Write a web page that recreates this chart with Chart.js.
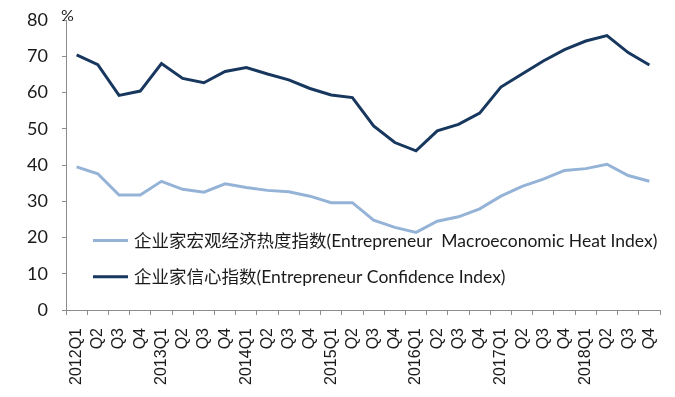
<!DOCTYPE html>
<html>
<head>
<meta charset="utf-8">
<script src="https://cdn.jsdelivr.net/npm/chart.js@4/dist/chart.umd.min.js"></script>
<style>
  html, body { margin: 0; padding: 0; background: #fff; }
  #wrap { position: relative; width: 675px; height: 397px; }
</style>
</head>
<body>
<div id="wrap"><canvas id="chart" width="675" height="397"></canvas></div>
<script>
const years = ['2012', '2013', '2014', '2015', '2016', '2017', '2018'];
const quarters = ['Q1', 'Q2', 'Q3', 'Q4'];
const categories = [];
years.forEach((y) => quarters.forEach((q) => categories.push(q === 'Q1' ? y + q : q)));

const heatIndex = [39.5, 37.6, 31.7, 31.7, 35.5, 33.3, 32.5, 34.8, 33.8, 33.0, 32.6, 31.4, 29.6, 29.6,
  24.8, 22.8, 21.4, 24.5, 25.7, 27.9, 31.4, 34.1, 36.1, 38.5, 39.0, 40.2, 37.1, 35.5];
const confidenceIndex = [70.4, 67.7, 59.2, 60.4, 68.0, 63.9, 62.7, 65.8, 66.9, 65.1, 63.5, 61.1, 59.3, 58.6,
  50.8, 46.2, 43.9, 49.4, 51.2, 54.3, 61.5, 65.1, 68.7, 71.8, 74.2, 75.7, 71.0, 67.6];

const seriesNames = [
  '企业家宏观经济热度指数(Entrepreneur  Macroeconomic Heat Index)',
  '企业家信心指数(Entrepreneur Confidence Index)',
];
const yTicks = [0, 10, 20, 30, 40, 50, 60, 70, 80];
const unitLabel = '%';

const LIGHT = '#95B3D7';
const DARK = '#17375E';
const AXIS = '#8c8c8c';
const TEXT_FONT = "Lato, 'Noto Sans CJK SC', sans-serif";

// legend sits inside the plot, bottom left, plus the % unit above the axis
const overlayPlugin = {
  id: 'overlay',
  afterDraw(chart) {
    const ctx = chart.ctx;
    const area = chart.chartArea;
    const y = chart.scales.y;
    ctx.save();
    ctx.fillStyle = '#1a1a1a';
    ctx.textBaseline = 'middle';
    ctx.textAlign = 'left';
    ctx.font = '16px ' + TEXT_FONT;
    ctx.fillText(unitLabel, area.left - 5, area.top - 4);

    ctx.font = '17.5px ' + TEXT_FONT;
    const rows = [
      { name: seriesNames[0], color: LIGHT, value: 20 },
      { name: seriesNames[1], color: DARK, value: 10 },
    ];
    rows.forEach((row) => {
      const py = y.getPixelForValue(row.value) + 3;
      ctx.strokeStyle = row.color;
      ctx.lineWidth = 3;
      ctx.beginPath();
      ctx.moveTo(area.left + 27, py);
      ctx.lineTo(area.left + 62, py);
      ctx.stroke();
      ctx.fillText(row.name, area.left + 68, py + 1);
    });
    ctx.restore();
  },
};

new Chart(document.getElementById('chart').getContext('2d'), {
  type: 'line',
  data: {
    labels: categories,
    datasets: [
      {
        label: seriesNames[0],
        data: heatIndex,
        borderColor: LIGHT,
        borderWidth: 3,
        pointRadius: 0,
        tension: 0,
        fill: false,
      },
      {
        label: seriesNames[1],
        data: confidenceIndex,
        borderColor: DARK,
        borderWidth: 3,
        pointRadius: 0,
        tension: 0,
        fill: false,
      },
    ],
  },
  options: {
    responsive: false,
    animation: false,
    layout: { padding: { top: 20, right: 15, left: 0, bottom: 0 } },
    plugins: {
      legend: { display: false },
      tooltip: { enabled: false },
    },
    scales: {
      x: {
        offset: true,
        grid: {
          offset: true,
          drawOnChartArea: false,
          drawTicks: true,
          tickLength: 5,
          color: AXIS,
        },
        border: { color: AXIS, width: 1 },
        ticks: {
          autoSkip: false,
          minRotation: 90,
          maxRotation: 90,
          padding: 13,
          color: '#1a1a1a',
          font: { family: "'Liberation Sans', Arial, sans-serif", size: 16 },
        },
        afterFit(scale) {
          scale.height = 87;
          scale.paddingLeft = 0;
          scale.paddingRight = 0;
        },
      },
      y: {
        min: 0,
        max: 80,
        afterBuildTicks(scale) { scale.ticks = yTicks.map((v) => ({ value: v })); },
        grid: {
          drawOnChartArea: false,
          drawTicks: true,
          tickLength: 4,
          color: AXIS,
        },
        border: { color: AXIS, width: 1 },
        ticks: {
          padding: 14,
          color: '#1a1a1a',
          font: { family: TEXT_FONT, size: 18 },
        },
        afterFit(scale) {
          scale.width = 66;
          scale.paddingTop = 0;
          scale.paddingBottom = 0;
        },
      },
    },
  },
  plugins: [overlayPlugin],
});
</script>
</body>
</html>
